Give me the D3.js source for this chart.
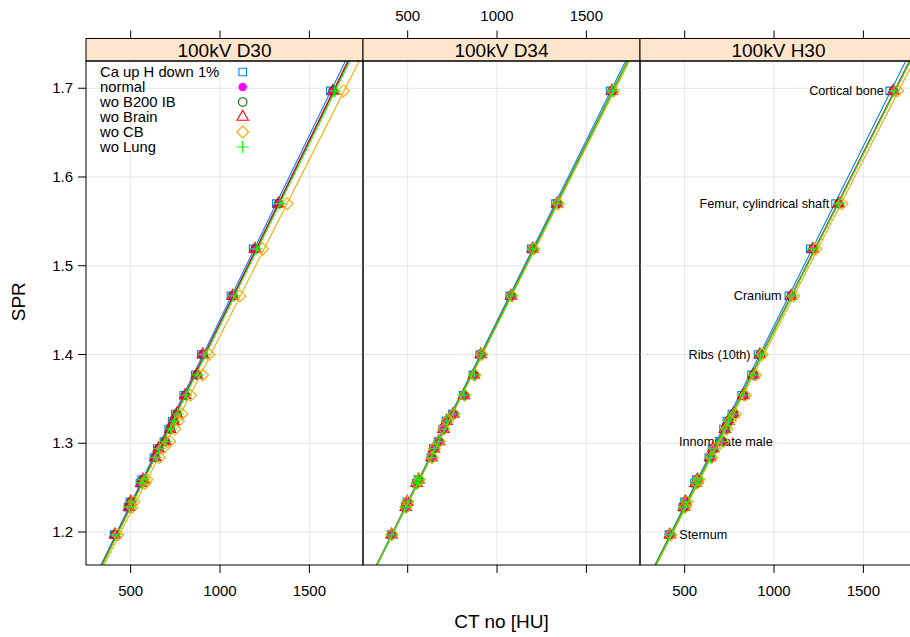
<!DOCTYPE html>
<html>
<head>
<meta charset="utf-8">
<script src="https://cdn.jsdelivr.net/npm/d3@7"></script>
<style>
  body { margin: 0; background: #fff; }
  svg { display: block; font-family: "Liberation Sans", Arial, Helvetica, sans-serif; }
</style>
</head>
<body>
<svg id="chart" width="910" height="637"></svg>
<script>
// panels (CT kernels) and groups (tissue set variants)
const panels = ["100kV D30", "100kV D34", "100kV H30"];
const groups = ["Ca up H down 1%", "normal", "wo B200 IB", "wo Brain", "wo CB", "wo Lung"];
const colors = ["#0080ff", "#ff00ff", "#006400", "#ff0000", "#ffa500", "#00ff00"];
const symbols = ["square", "dot", "circle", "triangle", "diamond", "plus"];

// stopping power ratio of each bone tissue
const spr = [1.197, 1.228, 1.234, 1.255, 1.259, 1.284, 1.294, 1.302, 1.316, 1.325,
             1.333, 1.354, 1.377, 1.400, 1.466, 1.519, 1.570, 1.697];
// labels shown in the H30 panel (index -> text, side)
const tissueLabels = [
  { i: 17, text: "Cortical bone", pos: "left" },
  { i: 16, text: "Femur, cylindrical shaft", pos: "left" },
  { i: 14, text: "Cranium", pos: "left" },
  { i: 13, text: "Ribs (10th)", pos: "left" },
  { i: 7,  text: "Innominate male", pos: "center" },
  { i: 0,  text: "Sternum", pos: "right" }
];

// CT numbers [HU], 100kV D30
const d30_caUp   = [407, 485, 495, 552, 562, 630, 649, 686, 713, 732, 750, 797, 861, 895, 1061, 1185, 1315, 1617];
const d30_normal = [412, 490, 500, 558, 568, 636, 655, 692, 720, 739, 757, 804, 869, 903, 1070, 1195, 1326, 1630];
const d30_woB200 = [413, 492, 502, 560, 570, 638, 657, 694, 722, 741, 759, 806, 871, 905, 1072, 1197, 1329, 1633];
const d30_woBrain= [412, 491, 501, 559, 569, 637, 656, 693, 721, 740, 758, 805, 870, 904, 1071, 1196, 1327, 1632];
const d30_woCB   = [428, 508, 518, 580, 590, 660, 679, 718, 747, 767, 786, 835, 902, 937, 1110, 1238, 1376, 1690];
const d30_woLung = [415, 494, 504, 562, 572, 641, 660, 697, 725, 744, 763, 810, 875, 909, 1077, 1203, 1335, 1641];

// CT numbers [HU], 100kV D34
const d34_caUp   = [408, 486, 495, 547, 558, 630, 643, 670, 696, 714, 750, 810, 865, 903, 1071, 1191, 1327, 1633];
const d34_normal = [410, 489, 498, 550, 561, 634, 647, 674, 700, 718, 755, 815, 871, 909, 1078, 1199, 1336, 1643];
const d34_woB200 = [410, 490, 499, 551, 562, 635, 648, 675, 701, 719, 756, 816, 872, 910, 1079, 1200, 1337, 1644];
const d34_woBrain= [410, 489, 498, 550, 561, 634, 647, 674, 700, 718, 755, 815, 871, 909, 1078, 1199, 1336, 1643];
const d34_woCB   = [412, 491, 500, 553, 564, 637, 650, 677, 703, 722, 759, 819, 876, 914, 1084, 1206, 1344, 1652];
const d34_woLung = [411, 490, 499, 551, 562, 635, 648, 675, 701, 719, 756, 816, 872, 910, 1079, 1200, 1337, 1645];

// CT numbers [HU], 100kV H30
const h30_caUp   = [412, 490, 499, 555, 565, 635, 653, 699, 717, 736, 764, 819, 874, 911, 1083, 1203, 1344, 1647];
const h30_normal = [417, 496, 505, 562, 572, 643, 661, 708, 726, 745, 773, 829, 885, 922, 1096, 1218, 1362, 1668];
const h30_woB200 = [418, 497, 506, 563, 573, 644, 662, 709, 727, 746, 774, 830, 886, 923, 1097, 1219, 1363, 1669];
const h30_woBrain= [417, 495, 504, 561, 571, 642, 660, 707, 725, 744, 772, 828, 884, 921, 1095, 1217, 1361, 1667];
const h30_woCB   = [422, 502, 512, 569, 579, 651, 670, 717, 736, 755, 783, 840, 897, 934, 1110, 1234, 1380, 1690];
const h30_woLung = [418, 496, 505, 563, 573, 644, 662, 709, 727, 746, 774, 830, 886, 923, 1098, 1220, 1364, 1670];

const xTicks = [500, 1000, 1500];
const yTicks = [1.2, 1.3, 1.4, 1.5, 1.6, 1.7];

const huByPanel = [
  [d30_caUp, d30_normal, d30_woB200, d30_woBrain, d30_woCB, d30_woLung],
  [d34_caUp, d34_normal, d34_woB200, d34_woBrain, d34_woCB, d34_woLung],
  [h30_caUp, h30_normal, h30_woB200, h30_woBrain, h30_woCB, h30_woLung]
];

// layout (the third panel runs past the right edge, as in the original)
const left0 = 86, pw = 277, panelTop = 61, panelBottom = 565, stripTop = 38.5;
const fontMain = 19, fontTick = 15, fontKey = 14.8, fontNote = 12.7;

const svg = d3.select("#chart");
const x = d3.scaleLinear().domain([250, 1800]).range([0, pw]);
const y = d3.scaleLinear().domain([1.1628, 1.7307]).range([panelBottom, panelTop]);

function symbolPath(type, cx, cy) {
  const s = 11.3, r = 0.375 * s;
  if (type === "square") { const h = r * 0.886; return `M${cx - h},${cy - h}h${2 * h}v${2 * h}h${-2 * h}Z`; }
  if (type === "dot" || type === "circle") return `M${cx + r},${cy}A${r},${r} 0 1,1 ${cx - r},${cy}A${r},${r} 0 1,1 ${cx + r},${cy}Z`;
  if (type === "triangle") {
    const tr = 1.555 * r, xc = 0.866 * tr;
    return `M${cx},${cy - tr}L${cx + xc},${cy + tr / 2}L${cx - xc},${cy + tr / 2}Z`;
  }
  if (type === "diamond") { const d = r * Math.SQRT2; return `M${cx},${cy - d}L${cx + d},${cy}L${cx},${cy + d}L${cx - d},${cy}Z`; }
  const p = r * Math.SQRT2;
  return `M${cx - p},${cy}H${cx + p}M${cx},${cy - p}V${cy + p}`;
}

function drawSymbol(g, type, color, cx, cy) {
  g.append("path")
    .attr("d", symbolPath(type, cx, cy))
    .attr("fill", type === "dot" ? color : "none")
    .attr("stroke", type === "dot" ? "none" : color)
    .attr("stroke-width", 1.1);
}

function lmFit(xs, ys) {
  const mx = d3.mean(xs), my = d3.mean(ys);
  let sxy = 0, sxx = 0;
  xs.forEach((v, i) => { sxy += (v - mx) * (ys[i] - my); sxx += (v - mx) * (v - mx); });
  const b = sxy / sxx;
  return { a: my - b * mx, b };
}

panels.forEach((name, p) => {
  const px = left0 + p * pw;
  const g = svg.append("g").attr("transform", `translate(${px},0)`);

  g.append("clipPath").attr("id", "clip" + p)
    .append("rect").attr("x", 0).attr("y", panelTop).attr("width", pw).attr("height", panelBottom - panelTop);

  // grid
  const grid = g.append("g").attr("stroke", "#e6e6e6").attr("stroke-width", 1);
  xTicks.forEach(t => grid.append("line").attr("x1", x(t)).attr("x2", x(t)).attr("y1", panelTop).attr("y2", panelBottom));
  yTicks.forEach(t => grid.append("line").attr("x1", 0).attr("x2", pw).attr("y1", y(t)).attr("y2", y(t)));

  const body = g.append("g").attr("clip-path", `url(#clip${p})`);

  // tissue names, last panel only
  if (p === 2) {
    const hu = huByPanel[p][1];
    tissueLabels.forEach(l => {
      const cx = x(hu[l.i]), cy = y(spr[l.i]);
      body.append("text")
        .attr("x", l.pos === "left" ? cx - 9.5 : l.pos === "right" ? cx + 9.5 : cx + 4)
        .attr("y", cy)
        .attr("dy", "0.35em")
        .attr("text-anchor", l.pos === "left" ? "end" : l.pos === "right" ? "start" : "middle")
        .attr("font-size", fontNote)
        .attr("fill", "#000")
        .text(l.text);
    });
  }

  // points then regression line, group by group
  groups.forEach((grp, k) => {
    const hu = huByPanel[p][k];
    hu.forEach((v, i) => drawSymbol(body, symbols[k], colors[k], x(v), y(spr[i])));
    const fit = lmFit(hu, spr);
    const [x0, x1] = x.domain();
    body.append("line")
      .attr("x1", x(x0)).attr("y1", y(fit.a + fit.b * x0))
      .attr("x2", x(x1)).attr("y2", y(fit.a + fit.b * x1))
      .attr("stroke", colors[k]).attr("stroke-width", 1.1);
  });

  // strip
  g.append("rect")
    .attr("x", 0).attr("y", stripTop).attr("width", pw).attr("height", panelTop - stripTop)
    .attr("fill", "#ffe5cc").attr("stroke", "#000").attr("stroke-width", 1);
  g.append("text")
    .attr("x", pw / 2).attr("y", (stripTop + panelTop) / 2).attr("dy", "0.36em")
    .attr("text-anchor", "middle").attr("font-size", fontMain)
    .text(name);

  // panel border
  g.append("rect")
    .attr("x", 0).attr("y", panelTop).attr("width", pw).attr("height", panelBottom - panelTop)
    .attr("fill", "none").attr("stroke", "#000").attr("stroke-width", 1);

  // x ticks top and bottom, labels alternate
  const ax = g.append("g").attr("stroke", "#000").attr("stroke-width", 1);
  xTicks.forEach(t => {
    ax.append("line").attr("x1", x(t)).attr("x2", x(t)).attr("y1", panelBottom).attr("y2", panelBottom + 8);
    ax.append("line").attr("x1", x(t)).attr("x2", x(t)).attr("y1", stripTop).attr("y2", stripTop - 8);
  });
  xTicks.forEach(t => {
    g.append("text")
      .attr("x", x(t))
      .attr("y", p === 1 ? 15.5 : 591)
      .attr("dy", "0.35em")
      .attr("text-anchor", "middle").attr("font-size", fontTick)
      .text(t);
  });
});

// y axis on the left of the first panel
const ay = svg.append("g");
yTicks.forEach(t => {
  ay.append("line").attr("x1", left0 - 8).attr("x2", left0).attr("y1", y(t)).attr("y2", y(t))
    .attr("stroke", "#000");
  ay.append("text")
    .attr("x", left0 - 13).attr("y", y(t)).attr("dy", "0.35em")
    .attr("text-anchor", "end").attr("font-size", fontTick)
    .text(d3.format(".1f")(t));
});

// axis titles
svg.append("text")
  .attr("x", left0 + 1.5 * pw).attr("y", 621).attr("dy", "0.35em")
  .attr("text-anchor", "middle").attr("font-size", fontMain)
  .text("CT no [HU]");
svg.append("text")
  .attr("transform", `translate(18,${(stripTop + panelBottom) / 2}) rotate(-90)`)
  .attr("dy", "0.35em")
  .attr("text-anchor", "middle").attr("font-size", fontMain)
  .text("SPR");

// key inside the first panel
const key = svg.append("g");
groups.forEach((grp, k) => {
  const cy = 72 + k * 15;
  key.append("text")
    .attr("x", 100).attr("y", cy).attr("dy", "0.35em")
    .attr("font-size", fontKey)
    .text(grp);
  drawSymbol(key, symbols[k], colors[k], 242.7, cy);
});
</script>
</body>
</html>
